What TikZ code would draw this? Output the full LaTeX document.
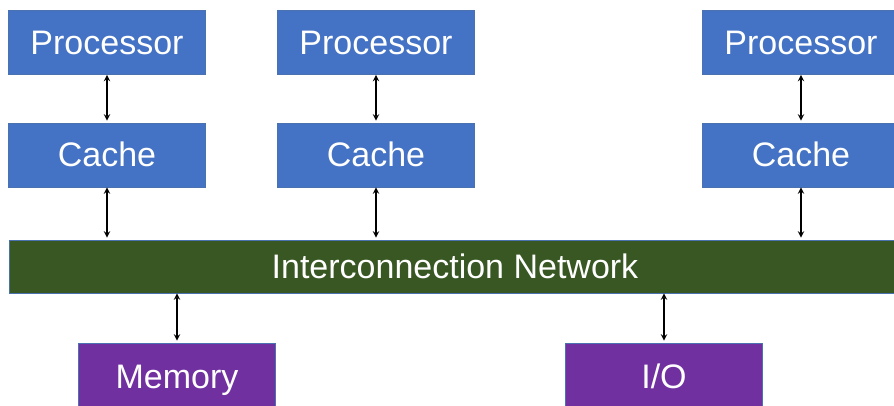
\documentclass[tikz,border=0pt]{standalone}
\usepackage{fontspec}
\setmainfont{Liberation Sans}
\usepackage{xcolor}
\definecolor{procblue}{HTML}{4472C4}
\definecolor{netgreen}{HTML}{385723}
\definecolor{iopurple}{HTML}{7030A0}
\definecolor{boxedge}{HTML}{4A72B0}

\begin{document}
\begin{tikzpicture}[>=stealth,x=1pt,y=-1pt,
    unit/.style={draw=boxedge,line width=0.8pt,fill=procblue,text=white,
      minimum width=197pt,minimum height=64pt,inner sep=0pt,
      text height=24pt,text depth=0pt,
      font=\fontsize{34}{40}\selectfont},
    link/.style={<->,line width=1.8pt,shorten >=2pt}]
          \useasboundingbox (0,0) rectangle (894,406);

          \node[unit] (proc1) at (107,42.5) {Processor};
          \node[unit] (proc2) at (376,42.5) {Processor};
          \node[unit] (proc3) at (801,42.5) {Processor};

          \node[unit] (cache1) at (107,155) {Cache};
          \node[unit] (cache2) at (376,155) {Cache};
          \node[unit] (cache3) at (801,155) {Cache};

          \node[unit,fill=netgreen,minimum width=892pt,minimum height=53pt] (net) at (455,266.5) {Interconnection Network};

          \node[unit,fill=iopurple,minimum height=66pt] (mem) at (177,376) {Memory};
          \node[unit,fill=iopurple,minimum height=66pt] (io) at (664,376) {I/O};

          \draw[link] (proc1) -- (cache1);
          \draw[link] (proc2) -- (cache2);
          \draw[link] (proc3) -- (cache3);

          \draw[link] (cache1) -- (cache1 |- net.north);
          \draw[link] (cache2) -- (cache2 |- net.north);
          \draw[link] (cache3) -- (cache3 |- net.north);

          \draw[link] (mem.north |- net.south) -- (mem);
          \draw[link] (io.north |- net.south) -- (io);
        \end{tikzpicture}
\end{document}
